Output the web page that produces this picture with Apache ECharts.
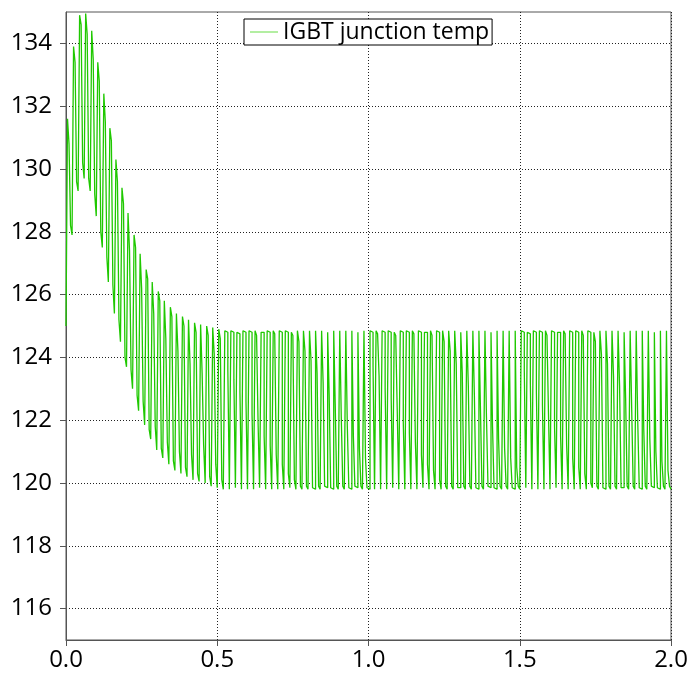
<!DOCTYPE html>
<html>
<head>
<meta charset="utf-8">
<script src="https://cdn.jsdelivr.net/npm/echarts@6/dist/echarts.min.js"></script>
<style>
  html, body { margin: 0; padding: 0; background: #fff; }
  #chart { width: 691px; height: 677px; }
</style>
</head>
<body>
<div id="chart"></div>
<script>
// one 50 Hz cycle = 0.02 s, sampled 4 times (trough, peak, two falling steps)
var cycleLen = 0.02;
var stepLen = 0.005;

var troughs = [
  125.0, 127.9, 129.3, 129.7, 129.3, 128.5, 127.5, 126.4, 125.4, 124.5,
  123.7, 123.0, 122.3, 121.85, 121.4, 121.05, 120.8, 120.6, 120.4, 120.3,
  120.2, 120.1, 120.05, 120.0, 119.9, 119.85, 119.8, 119.8, 119.85, 119.8,
  119.8, 119.8, 119.85, 119.8, 119.8, 119.8, 119.8, 119.85, 119.8, 119.8,
  119.8, 119.8, 119.8, 119.85, 119.8, 119.8, 119.8, 119.8, 119.85, 119.8,
  119.8, 119.8, 119.8, 119.8, 119.85, 119.8, 119.8, 119.8, 119.8, 119.85,
  119.8, 119.8, 119.8, 119.8, 119.8, 119.85, 119.8, 119.8, 119.8, 119.8,
  119.85, 119.8, 119.8, 119.8, 119.8, 119.8, 119.85, 119.8, 119.8, 119.8,
  119.8, 119.85, 119.8, 119.8, 119.8, 119.8, 119.8, 119.85, 119.8, 119.8,
  119.8, 119.8, 119.85, 119.8, 119.8, 119.8, 119.8, 119.85, 119.8, 119.8
];

var peaks = [
  131.6, 133.9, 134.9, 134.95, 134.4, 133.4, 132.4, 131.3, 130.3, 129.4,
  128.6, 127.9, 127.3, 126.8, 126.4, 126.1, 125.8, 125.6, 125.4, 125.3,
  125.2, 125.1, 125.05, 125.0, 124.95, 124.9, 124.85, 124.85, 124.8, 124.85,
  124.85, 124.85, 124.8, 124.85, 124.85, 124.85, 124.85, 124.8, 124.85, 124.85,
  124.85, 124.85, 124.85, 124.8, 124.85, 124.85, 124.85, 124.85, 124.8, 124.85,
  124.85, 124.85, 124.85, 124.85, 124.8, 124.85, 124.85, 124.85, 124.85, 124.8,
  124.85, 124.85, 124.85, 124.85, 124.85, 124.8, 124.85, 124.85, 124.85, 124.85,
  124.8, 124.85, 124.85, 124.85, 124.85, 124.85, 124.8, 124.85, 124.85, 124.85,
  124.85, 124.8, 124.85, 124.85, 124.85, 124.85, 124.85, 124.8, 124.85, 124.85,
  124.85, 124.85, 124.8, 124.85, 124.85, 124.85, 124.85, 124.8, 124.85, 124.85
];

var stepA = [
  130.8, 133.4, 134.6, 134.3, 133.5, 132.8, 131.5, 130.9, 129.6, 128.9,
  127.4, 127.5, 126.2, 126.5, 125.4, 125.8, 124.6, 125.3, 124.2, 125.0,
  123.8, 124.8, 123.5, 124.7, 124.1, 124.6, 124.8, 124.8, 124.75, 124.8,
  124.8, 124.7, 124.8, 124.8, 124.75, 124.8, 124.8, 124.7, 124.5, 124.2,
  123.9, 123.5, 123.2, 122.8, 122.5, 122.1, 121.8, 121.5, 121.1, 120.8,
  124.8, 124.75, 124.8, 124.8, 124.7, 124.8, 124.8, 124.75, 124.8, 124.8,
  124.7, 124.8, 124.5, 124.2, 123.8, 123.5, 123.1, 122.8, 122.4, 122.1,
  121.8, 121.4, 121.1, 120.8, 120.5, 124.8, 124.75, 124.8, 124.8, 124.7,
  124.8, 124.8, 124.75, 124.8, 124.8, 124.7, 124.8, 124.5, 124.1, 123.8,
  123.4, 123.1, 122.7, 122.4, 122.0, 121.7, 121.4, 121.0, 120.7, 120.4
];

var stepB = [
  128.2, 129.6, 130.2, 129.7, 129.2, 128.0, 127.2, 126.3, 125.2, 124.0,
  123.6, 122.8, 122.6, 121.7, 121.8, 121.1, 121.3, 120.7, 121.0, 120.5,
  120.9, 120.3, 121.2, 120.2, 120.6, 120.1, 123.6, 123.3, 122.9, 122.6,
  122.2, 121.9, 121.5, 121.2, 120.9, 120.6, 120.3, 120.1, 119.9, 119.9,
  119.85, 119.9, 119.9, 119.85, 119.9, 119.9, 119.85, 119.9, 119.9, 119.85,
  123.7, 123.4, 123.0, 122.7, 122.3, 121.9, 121.6, 121.3, 120.9, 120.6,
  120.4, 120.1, 119.9, 119.9, 119.85, 119.9, 119.9, 119.85, 119.9, 119.9,
  119.85, 119.9, 119.9, 119.85, 119.9, 123.6, 123.2, 122.9, 122.5, 122.2,
  121.8, 121.5, 121.2, 120.8, 120.5, 120.3, 120.0, 119.9, 119.85, 119.9,
  119.9, 119.85, 119.9, 119.9, 119.85, 119.9, 119.9, 119.85, 119.9, 119.9
];

var yTicks = [116, 118, 120, 122, 124, 126, 128, 130, 132, 134];

// build the [t, value] table
var tempData = [];
for (var k = 0; k < peaks.length; k++) {
  var t0 = k * cycleLen;
  tempData.push([t0, troughs[k]]);
  tempData.push([t0 + stepLen, peaks[k]]);
  tempData.push([t0 + 2 * stepLen, stepA[k]]);
  tempData.push([t0 + 3 * stepLen, stepB[k]]);
}
tempData.push([2.0, 119.8]);

var myChart = echarts.init(document.getElementById('chart'));

var fontFam = '"Open Sans", "Noto Sans", sans-serif';
var green = '#1fc800';

var option = {
  animation: false,
  grid: {
    left: 66, right: 20, top: 12, bottom: 37,
    show: true, borderColor: '#555', borderWidth: 1, backgroundColor: '#fff'
  },
  legend: {
    data: ['IGBT junction temp'],
    icon: 'rect',
    left: 244, top: 19,
    backgroundColor: '#fff',
    borderColor: '#000', borderWidth: 1, borderRadius: 0,
    padding: [0, 3, 0, 6],
    itemWidth: 28, itemHeight: 1, itemGap: 6,
    itemStyle: { color: '#66dd44' },
    textStyle: { fontFamily: fontFam, fontSize: 23, color: '#000', lineHeight: 26 }
  },
  xAxis: {
    type: 'value',
    min: 0, max: 2, interval: 0.5,
    axisLine: { show: true, lineStyle: { color: '#555' } },
    axisTick: { show: true, length: 6, lineStyle: { color: '#555' } },
    axisLabel: {
      margin: 8, fontFamily: fontFam, fontSize: 24, color: '#000',
      formatter: function (v) { return v.toFixed(1); }
    },
    splitLine: { show: true, lineStyle: { color: '#222', type: [1, 2], width: 1 } }
  },
  yAxis: {
    type: 'value',
    min: 115, max: 135,
    axisLine: { show: true, lineStyle: { color: '#555' } },
    axisTick: { show: true, length: 6, customValues: yTicks, lineStyle: { color: '#555' } },
    axisLabel: {
      margin: 14, fontFamily: fontFam, fontSize: 24, color: '#000',
      customValues: yTicks
    },
    splitLine: { show: true, lineStyle: { color: '#222', type: [1, 2], width: 1 } }
  },
  series: [
    {
      name: 'IGBT junction temp',
      type: 'line',
      step: 'end',
      symbol: 'none',
      data: tempData,
      lineStyle: { color: green, width: 1.3 },
      itemStyle: { color: green }
    }
  ]
};

myChart.setOption(option);
</script>
</body>
</html>
